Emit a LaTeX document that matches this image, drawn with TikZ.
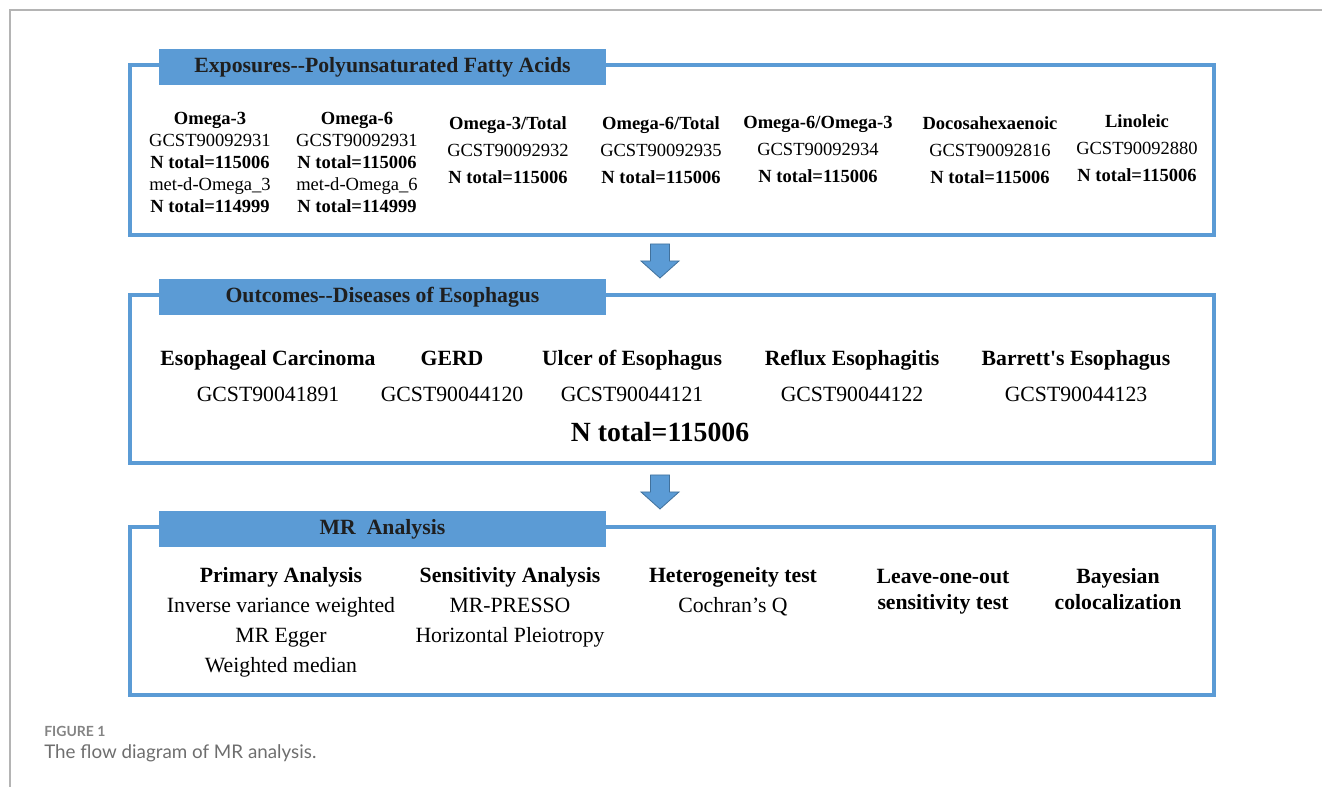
\documentclass[tikz,border=0pt]{standalone}
\usepackage{fontspec}
\setmainfont{Liberation Serif}[Ligatures=TeXOff]
\newfontfamily\capfont{Lato}
\usetikzlibrary{calc}
\definecolor{mrblue}{HTML}{5B9BD5}
\definecolor{mrdark}{HTML}{41719C}
\definecolor{framegray}{HTML}{B4B4B4}
\definecolor{capgray}{HTML}{6E6E6E}
\tikzset{
  panel/.style={draw=mrblue, line width=2.3pt, rectangle, inner sep=0pt, minimum width=813pt},
  header/.style={fill=mrblue, rectangle, inner sep=0pt, minimum width=335.25pt, minimum height=27pt,
    font=\fontsize{16.3}{19}\selectfont\bfseries, text=black!88},
  colA/.style={align=center, font=\fontsize{13.9}{16.5}\selectfont},
  colB/.style={align=center, font=\fontsize{13.9}{20.25}\selectfont},
  colC/.style={align=center, font=\fontsize{16.3}{27}\selectfont},
  colD/.style={align=center, font=\fontsize{16.3}{22.5}\selectfont},
  colE/.style={align=center, font=\fontsize{16.3}{19.5}\selectfont\bfseries},
  blockarrow/.style={fill=mrblue, draw=mrdark, line width=0.6pt, line join=miter},
}
\begin{document}
\begin{tikzpicture}[x=0.75pt, y=-0.75pt]
\useasboundingbox (0,0) rectangle (1322,787);
% page frame
\draw[framegray, line width=1.1pt] (10,787) -- (10,10) -- (1322,10);

% panels
\node[panel, minimum height=127.5pt] (box1) at (672,150) {};
\node[panel, minimum height=126pt] (box2) at (672,379) {};
\node[panel, minimum height=126pt] (box3) at (672,611) {};

% headers
\node[header] (h1) at (382.5,67.5) {Exposures-{}-Polyunsaturated Fatty Acids};
\node[header] (h2) at (382.5,297.5) {Outcomes-{}-Diseases of Esophagus};
\node[header] (h3) at (382.5,529.5) {MR\ \ Analysis};

% block arrows
\draw[blockarrow] (650.5,244) -- (669.5,244) -- (669.5,261) -- (679,261) -- (660,278)
  -- (641,261) -- (650.5,261) -- cycle;
\draw[blockarrow] (650.5,475) -- (669.5,475) -- (669.5,492) -- (679,492) -- (660,509)
  -- (641,492) -- (650.5,492) -- cycle;

% box 1 contents
\node[colA] (e1) at (210,162) {\textbf{Omega-3}\\GCST90092931\\\textbf{N total=115006}\\met-d-Omega\_3\\\textbf{N total=114999}};
\node[colA] (e2) at (357,162) {\textbf{Omega-6}\\GCST90092931\\\textbf{N total=115006}\\met-d-Omega\_6\\\textbf{N total=114999}};
\node[colB] (e3) at (508,150) {\textbf{Omega-3/Total}\\GCST90092932\\\textbf{N total=115006}};
\node[colB] (e4) at (661,150) {\textbf{Omega-6/Total}\\GCST90092935\\\textbf{N total=115006}};
\node[colB] (e5) at (818,149) {\textbf{Omega-6/Omega-3}\\GCST90092934\\\textbf{N total=115006}};
\node[colB] (e6) at (990,150) {\textbf{Docosahexaenoic}\\GCST90092816\\\textbf{N total=115006}};
\node[colB] (e7) at (1137,148) {\textbf{Linoleic}\\GCST90092880\\\textbf{N total=115006}};

% box 2 contents
\node[colC] (o1) at (268,376) {\textbf{Esophageal Carcinoma}\\GCST90041891};
\node[colC] (o2) at (452,376) {\textbf{GERD}\\GCST90044120};
\node[colC] (o3) at (632,376) {\textbf{Ulcer of Esophagus}\\GCST90044121};
\node[colC] (o4) at (852,376) {\textbf{Reflux Esophagitis}\\GCST90044122};
\node[colC] (o5) at (1076,376) {\textbf{Barrett's Esophagus}\\GCST90044123};
\node[font=\fontsize{20.8}{24}\selectfont\bfseries] (ntot) at (660,432) {N total=115006};

% box 3 contents
\node[colD] (m1) at (281,622) {\textbf{Primary Analysis}\\Inverse variance weighted\\MR Egger\\Weighted median};
\node[colD] (m2) at (510,607) {\textbf{Sensitivity Analysis}\\MR-PRESSO\\Horizontal Pleiotropy};
\node[colD] (m3) at (733,592) {\textbf{Heterogeneity test}\\Cochran’s Q};
\node[colE] (m4) at (943,592) {Leave-one-out\\sensitivity test};
\node[colE] (m5) at (1118,589) {Bayesian\\colocalization};

% caption
\node[anchor=west, inner sep=0pt, text=capgray!85, font=\capfont\fontsize{10.5}{12}\selectfont\bfseries] (fig) at (44,731) {FIGURE 1};
\node[anchor=west, inner sep=0pt, text=capgray, font=\capfont\fontsize{14.1}{16}\selectfont] (cap) at (44,753) {The flow diagram of MR analysis.};
\end{tikzpicture}
\end{document}
